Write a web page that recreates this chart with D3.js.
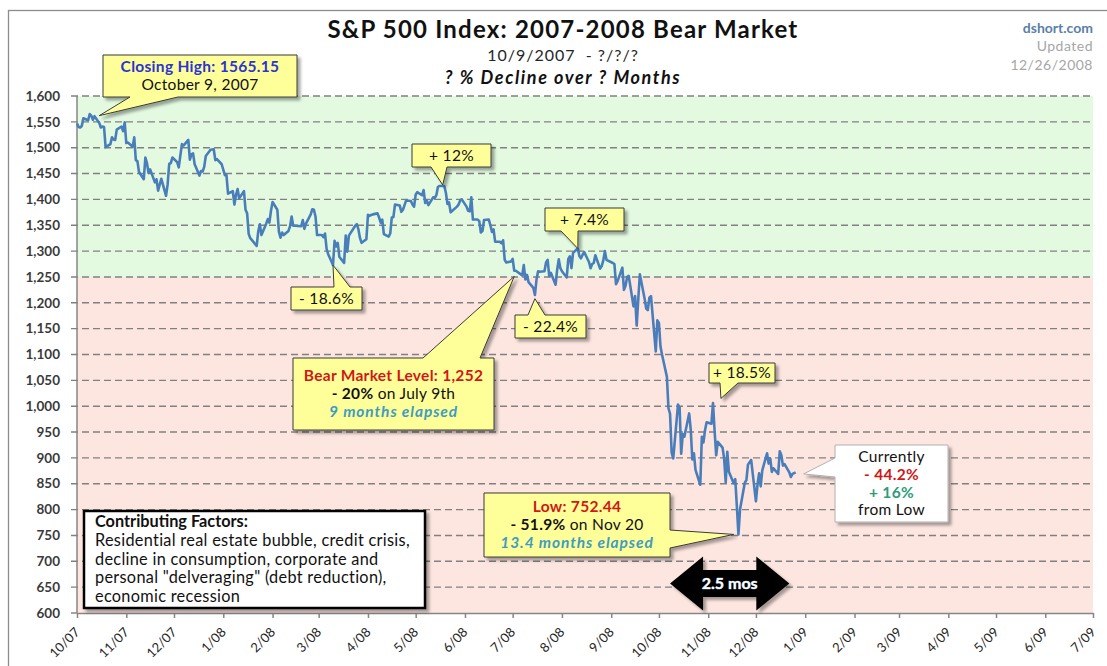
<!DOCTYPE html>
<html>
<head>
<meta charset="utf-8">
<script src="https://cdn.jsdelivr.net/npm/d3@7"></script>
<style>
  html, body { margin: 0; padding: 0; background: #fff; }
  svg { display: block; font-family: Lato, "Open Sans", sans-serif; }
</style>
</head>
<body>
<div id="chart"></div>
<script>
// daily closes, S&P 500
const tradingDays = [
  "10/01/07","10/02/07","10/03/07","10/04/07","10/05/07","10/08/07","10/09/07","10/10/07","10/11/07","10/12/07","10/15/07","10/16/07","10/17/07","10/18/07","10/19/07","10/22/07","10/23/07","10/24/07","10/25/07","10/26/07","10/29/07","10/30/07","10/31/07",
  "11/01/07","11/02/07","11/05/07","11/06/07","11/07/07","11/08/07","11/09/07","11/12/07","11/13/07","11/14/07","11/15/07","11/16/07","11/19/07","11/20/07","11/21/07","11/23/07","11/26/07","11/27/07","11/28/07","11/29/07","11/30/07",
  "12/03/07","12/04/07","12/05/07","12/06/07","12/07/07","12/10/07","12/11/07","12/12/07","12/13/07","12/14/07","12/17/07","12/18/07","12/19/07","12/20/07","12/21/07","12/24/07","12/26/07","12/27/07","12/28/07","12/31/07",
  "01/02/08","01/03/08","01/04/08","01/07/08","01/08/08","01/09/08","01/10/08","01/11/08","01/14/08","01/15/08","01/16/08","01/17/08","01/18/08","01/22/08","01/23/08","01/24/08","01/25/08","01/28/08","01/29/08","01/30/08","01/31/08",
  "02/01/08","02/04/08","02/05/08","02/06/08","02/07/08","02/08/08","02/11/08","02/12/08","02/13/08","02/14/08","02/15/08","02/19/08","02/20/08","02/21/08","02/22/08","02/25/08","02/26/08","02/27/08","02/28/08","02/29/08",
  "03/03/08","03/04/08","03/05/08","03/06/08","03/07/08","03/10/08","03/11/08","03/12/08","03/13/08","03/14/08","03/17/08","03/18/08","03/19/08","03/20/08","03/24/08","03/25/08","03/26/08","03/27/08","03/28/08","03/31/08",
  "04/01/08","04/02/08","04/03/08","04/04/08","04/07/08","04/08/08","04/09/08","04/10/08","04/11/08","04/14/08","04/15/08","04/16/08","04/17/08","04/18/08","04/21/08","04/22/08","04/23/08","04/24/08","04/25/08","04/28/08","04/29/08","04/30/08",
  "05/01/08","05/02/08","05/05/08","05/06/08","05/07/08","05/08/08","05/09/08","05/12/08","05/13/08","05/14/08","05/15/08","05/16/08","05/19/08","05/20/08","05/21/08","05/22/08","05/23/08","05/27/08","05/28/08","05/29/08","05/30/08",
  "06/02/08","06/03/08","06/04/08","06/05/08","06/06/08","06/09/08","06/10/08","06/11/08","06/12/08","06/13/08","06/16/08","06/17/08","06/18/08","06/19/08","06/20/08","06/23/08","06/24/08","06/25/08","06/26/08","06/27/08","06/30/08",
  "07/01/08","07/02/08","07/03/08","07/07/08","07/08/08","07/09/08","07/10/08","07/11/08","07/14/08","07/15/08","07/16/08","07/17/08","07/18/08","07/21/08","07/22/08","07/23/08","07/24/08","07/25/08","07/28/08","07/29/08","07/30/08","07/31/08",
  "08/01/08","08/04/08","08/05/08","08/06/08","08/07/08","08/08/08","08/11/08","08/12/08","08/13/08","08/14/08","08/15/08","08/18/08","08/19/08","08/20/08","08/21/08","08/22/08","08/25/08","08/26/08","08/27/08","08/28/08","08/29/08",
  "09/02/08","09/03/08","09/04/08","09/05/08","09/08/08","09/09/08","09/10/08","09/11/08","09/12/08","09/15/08","09/16/08","09/17/08","09/18/08","09/19/08","09/22/08","09/23/08","09/24/08","09/25/08","09/26/08","09/29/08","09/30/08",
  "10/01/08","10/02/08","10/03/08","10/06/08","10/07/08","10/08/08","10/09/08","10/10/08","10/13/08","10/14/08","10/15/08","10/16/08","10/17/08","10/20/08","10/21/08","10/22/08","10/23/08","10/24/08","10/27/08","10/28/08","10/29/08","10/30/08","10/31/08",
  "11/03/08","11/04/08","11/05/08","11/06/08","11/07/08","11/10/08","11/11/08","11/12/08","11/13/08","11/14/08","11/17/08","11/18/08","11/19/08","11/20/08","11/21/08","11/24/08","11/25/08","11/26/08","11/28/08",
  "12/01/08","12/02/08","12/03/08","12/04/08","12/05/08","12/08/08","12/09/08","12/10/08","12/11/08","12/12/08","12/15/08","12/16/08","12/17/08","12/18/08","12/19/08","12/22/08","12/23/08","12/24/08","12/26/08"
];
const closes = [
  1547,1540,1539,1542,1557,1553,1565,1562,1554,1561,1548,1539,1541,1540,1501,1507,1520,1516,1515,1535,1541,1532,1549,
  1509,1510,1502,1520,1476,1474,1453,1439,1481,1470,1451,1458,1433,1439,1417,1440,1407,1429,1469,1470,1481,
  1472,1462,1485,1507,1504,1515,1477,1487,1489,1468,1446,1455,1454,1463,1484,1496,1497,1476,1478,1468,
  1447,1447,1411,1416,1390,1409,1420,1402,1416,1380,1373,1333,1325,1310,1338,1352,1331,1353,1362,1355,1378,
  1395,1380,1337,1326,1336,1331,1339,1348,1367,1349,1349,1348,1360,1343,1353,1371,1381,1380,1367,1331,
  1331,1327,1334,1304,1294,1273,1320,1309,1316,1289,1277,1330,1299,1330,1349,1352,1342,1325,1316,1323,
  1370,1368,1370,1371,1373,1365,1355,1361,1333,1328,1334,1365,1366,1390,1388,1376,1380,1389,1398,1397,1390,1386,
  1409,1414,1408,1418,1393,1398,1389,1404,1403,1408,1424,1426,1426,1413,1391,1394,1375,1386,1390,1398,1400,
  1386,1378,1377,1404,1361,1361,1358,1336,1339,1360,1361,1350,1337,1342,1318,1318,1315,1321,1283,1278,1280,
  1285,1262,1262,1253,1273,1245,1254,1240,1229,1215,1245,1261,1260,1261,1278,1283,1252,1258,1235,1264,1284,1267,
  1261,1249,1285,1290,1267,1297,1305,1290,1286,1293,1298,1279,1267,1275,1277,1292,1266,1271,1282,1300,1283,
  1277,1275,1236,1242,1268,1225,1233,1250,1252,1193,1213,1156,1207,1255,1208,1189,1186,1210,1213,1106,1166,
  1161,1115,1099,1057,996,985,910,899,1003,998,908,946,941,986,955,897,909,877,848,941,930,954,969,
  966,1006,953,905,931,920,899,853,912,873,851,859,807,752,800,852,857,887,896,
  816,849,870,845,876,909,889,899,873,880,869,913,905,885,888,872,863,869,872
];
const monthTicks = ["10/07","11/07","12/07","1/08","2/08","3/08","4/08","5/08","6/08","7/08","8/08","9/08",
  "10/08","11/08","12/08","1/09","2/09","3/09","4/09","5/09","6/09","7/09"];
const bearLevel = 1250;
const arrowSpan = ["10/08/08", "12/22/08"];
const factorLines = [
  "Residential real estate bubble, credit crisis,",
  "decline in consumption, corporate and",
  "personal \"delveraging\" (debt reduction),",
  "economic recession"
];

const W = 1107, H = 666;
const plotL = 77, plotR = 1093, plotT = 96, plotB = 613;
const parseDay = d3.timeParse("%m/%d/%y");
const parseMonth = d3.timeParse("%m/%y");
const tickDates = monthTicks.map(parseMonth);

const series = tradingDays.map((d, i) => ({date: parseDay(d), close: closes[i]}));

const x = d3.scaleTime().domain([tickDates[0], tickDates[tickDates.length - 1]]).range([plotL, plotR]);
const y = d3.scaleLinear().domain([600, 1600]).range([plotB, plotT]);

const svg = d3.select("#chart").append("svg").attr("width", W).attr("height", H);

const defs = svg.append("defs");
defs.append("filter").attr("id", "shadow").attr("x", "-20%").attr("y", "-20%").attr("width", "150%").attr("height", "150%")
  .append("feDropShadow").attr("dx", 3).attr("dy", 3).attr("stdDeviation", 1.5)
  .attr("flood-color", "#000").attr("flood-opacity", 0.35);

// outer frame
svg.append("rect").attr("x", 8.5).attr("y", 10.5).attr("width", 1120).attr("height", 700)
  .attr("fill", "#fff").attr("stroke", "#8c8c8c").attr("stroke-width", 1.3);

// titles
svg.append("text").attr("x", 563).attr("y", 38).attr("text-anchor", "middle")
  .style("font-size", "24px").style("font-weight", "bold").style("letter-spacing", "1.2px").attr("fill", "#111")
  .text("S&P 500 Index: 2007-2008 Bear Market");
svg.append("text").attr("x", 563).attr("y", 61).attr("text-anchor", "middle")
  .style("font-size", "16px").style("letter-spacing", "1px").style("white-space", "pre").attr("fill", "#262626")
  .text("10/9/2007  - ?/?/?");
svg.append("text").attr("x", 563).attr("y", 84).attr("text-anchor", "middle")
  .style("font-size", "18px").style("font-weight", "bold").style("font-style", "italic")
  .style("letter-spacing", "1.6px").attr("fill", "#111")
  .text("? % Decline over ? Months");
svg.append("text").attr("x", plotR).attr("y", 33).attr("text-anchor", "end")
  .style("font-size", "14px").style("font-weight", "bold").attr("fill", "#5a7fa8").text("dshort.com");
svg.append("text").attr("x", plotR).attr("y", 51).attr("text-anchor", "end")
  .style("font-size", "14px").style("letter-spacing", "0.5px").attr("fill", "#a6a6a6").text("Updated");
svg.append("text").attr("x", plotR).attr("y", 70).attr("text-anchor", "end")
  .style("font-size", "14px").style("letter-spacing", "0.5px").attr("fill", "#a6a6a6").text("12/26/2008");

// zones
svg.append("rect").attr("x", plotL).attr("y", y(1600)).attr("width", plotR - plotL)
  .attr("height", y(bearLevel) - y(1600)).attr("fill", "#e3fae1");
svg.append("rect").attr("x", plotL).attr("y", y(bearLevel)).attr("width", plotR - plotL)
  .attr("height", y(600) - y(bearLevel)).attr("fill", "#fde6e0");

// grid + y labels
const yTicks = y.ticks(20);
svg.append("g").selectAll("line").data(yTicks.filter(t => t > 600)).join("line")
  .attr("x1", plotL - 6).attr("x2", plotR).attr("y1", d => y(d)).attr("y2", d => y(d))
  .attr("stroke", "#808080").attr("stroke-width", 1.4).attr("stroke-dasharray", "7,4");
svg.append("g").selectAll("text").data(yTicks).join("text")
  .attr("x", 60).attr("y", d => y(d)).attr("dy", "0.35em").attr("text-anchor", "end")
  .style("font-size", "13.5px").style("font-weight", "bold").attr("fill", "#3a3a3a")
  .text(d3.format(","));
svg.append("line").attr("x1", plotL).attr("x2", plotL).attr("y1", plotT).attr("y2", plotB)
  .attr("stroke", "#868686").attr("stroke-width", 1.5);
svg.append("line").attr("x1", plotL - 6).attr("x2", plotL).attr("y1", plotB).attr("y2", plotB)
  .attr("stroke", "#868686").attr("stroke-width", 1.5);

// x axis
const xAxis = svg.append("g").attr("transform", "translate(0," + plotB + ")")
  .call(d3.axisBottom(x).tickValues(tickDates).tickSize(5).tickSizeOuter(0)
    .tickFormat((d, i) => monthTicks[i]));
xAxis.select(".domain").attr("stroke", "#868686").attr("stroke-width", 1.5);
xAxis.selectAll(".tick line").attr("stroke", "#868686").attr("stroke-width", 1.5);
xAxis.selectAll(".tick text")
  .attr("x", 0).attr("y", 0).attr("dy", 0)
  .attr("transform", "translate(3,20) rotate(-45)")
  .attr("text-anchor", "end")
  .style("font-family", "Lato, sans-serif").style("font-size", "13px").attr("fill", "#262626");

// price line
const line = d3.line().x(d => x(d.date)).y(d => y(d.close));
svg.append("path").datum(series).attr("d", line)
  .attr("fill", "none").attr("stroke", "#4a7ebb").attr("stroke-width", 2.6).attr("stroke-linejoin", "round");

// callouts
const RED = "#d01818", TEAL = "#3f9cc0", BLUE = "#2b34d4", GREEN = "#2e9c78";
const callouts = [
  {box: [103, 55, 194, 42], side: "bottom", base: [130, 178], tip: ["10/15/07", 1562], lh: 18,
    lines: [[{t: "Closing High: 1565.15", c: BLUE, b: true}], [{t: "October 9, 2007"}]]},
  {box: [412, 144, 79, 23], side: "bottom", base: [431, 447], tip: ["5/18/08", 1428], lh: 18,
    lines: [[{t: "+ 12%"}]]},
  {box: [291, 287, 71, 23], side: "top", base: [334, 350], tip: ["3/10/08", 1273], lh: 18,
    lines: [[{t: "- 18.6%"}]]},
  {box: [545, 208, 79, 23], side: "bottom", base: [561, 578], tip: ["8/11/08", 1305], lh: 18,
    lines: [[{t: "+ 7.4%"}]]},
  {box: [515, 315, 71, 23], side: "top", base: [528, 545], tip: ["7/15/08", 1208], lh: 18,
    lines: [[{t: "- 22.4%"}]]},
  {box: [293, 358, 201, 72], side: "top", base: [423, 480], tip: ["7/2/08", 1251], lh: 18,
    lines: [[{t: "Bear Market Level: 1,252", c: RED, b: true}],
            [{t: "- 20%", b: true}, {t: " on July 9th"}],
            [{t: "9 months elapsed", c: TEAL, b: true, i: true}]]},
  {box: [709, 363, 66, 20], side: "bottom", base: [720, 738], tip: ["11/9/08", 1015], lh: 18,
    lines: [[{t: "+ 18.5%"}]]},
  {box: [484, 493, 186, 64], side: "right", base: [530, 548], tip: ["11/17/08", 752], lh: 18,
    lines: [[{t: "Low: 752.44", c: RED, b: true}],
            [{t: "- 51.9%", b: true}, {t: " on Nov 20"}],
            [{t: "13.4 months elapsed", c: TEAL, b: true, i: true}]]},
  {box: [835, 445, 113, 77], side: "left", base: [458, 477], tip: ["12/31/08", 869], lh: 17.7,
    fill: "#fff", stroke: "#b0b0b0",
    lines: [[{t: "Currently"}], [{t: "- 44.2%", c: RED, b: true}], [{t: "+ 16%", c: GREEN, b: true}], [{t: "from Low"}]]}
];

function calloutPath(c) {
  const [x0, y0, w, h] = c.box, x1 = x0 + w, y1 = y0 + h;
  const tx = x(parseDay(c.tip[0])), ty = y(c.tip[1]);
  const [a, b] = c.base;
  const p = d3.path();
  p.moveTo(x0, y0);
  if (c.side === "top") { p.lineTo(a, y0); p.lineTo(tx, ty); p.lineTo(b, y0); }
  p.lineTo(x1, y0);
  if (c.side === "right") { p.lineTo(x1, a); p.lineTo(tx, ty); p.lineTo(x1, b); }
  p.lineTo(x1, y1);
  if (c.side === "bottom") { p.lineTo(b, y1); p.lineTo(tx, ty); p.lineTo(a, y1); }
  p.lineTo(x0, y1);
  if (c.side === "left") { p.lineTo(x0, b); p.lineTo(tx, ty); p.lineTo(x0, a); }
  p.closePath();
  return p.toString();
}

callouts.forEach(c => {
  const g = svg.append("g");
  g.append("path").attr("d", calloutPath(c))
    .attr("fill", c.fill || "#ffff99").attr("stroke", c.stroke || "#3a3a3a").attr("stroke-width", 1)
    .attr("stroke-linejoin", "miter").attr("filter", "url(#shadow)");
  const cx = c.box[0] + c.box[2] / 2, cy = c.box[1] + c.box[3] / 2, n = c.lines.length;
  c.lines.forEach((ln, i) => {
    const t = g.append("text").attr("x", cx).attr("y", cy + (i - (n - 1) / 2) * c.lh).attr("dy", "0.35em")
      .attr("text-anchor", "middle").style("font-size", "15.5px").style("letter-spacing", "0.3px")
      .style("white-space", "pre");
    ln.forEach(s => t.append("tspan").text(s.t).attr("fill", s.c || "#111")
      .style("font-weight", s.b ? "bold" : "normal").style("font-style", s.i ? "italic" : "normal")
      .style("letter-spacing", s.i ? "0.9px" : null));
  });
});

// contributing factors box
const fb = svg.append("g");
fb.append("rect").attr("x", 84).attr("y", 511).attr("width", 341).attr("height", 97)
  .attr("fill", "#fff").attr("stroke", "#000").attr("stroke-width", 2.5).attr("filter", "url(#shadow)");
fb.append("text").attr("x", 95).attr("y", 527).style("font-size", "16.3px").style("font-weight", "bold")
  .attr("fill", "#111").text("Contributing Factors:");
fb.selectAll("text.f").data(factorLines).join("text").attr("class", "f")
  .attr("x", 95).attr("y", (d, i) => 546 + i * 18.5).style("font-size", "16.3px").style("letter-spacing", "0.3px")
  .attr("fill", "#111").text(d => d);

// 2.5 month double arrow
const ax0 = x(parseDay(arrowSpan[0])), ax1 = x(parseDay(arrowSpan[1])), ay = 583.5;
const hl = 33, hh = 27, sh = 13.5;
svg.append("path")
  .attr("d", d3.line()([[ax0, ay], [ax0 + hl, ay - hh], [ax0 + hl, ay - sh], [ax1 - hl, ay - sh], [ax1 - hl, ay - hh],
    [ax1, ay], [ax1 - hl, ay + hh], [ax1 - hl, ay + sh], [ax0 + hl, ay + sh], [ax0 + hl, ay + hh]]) + "Z")
  .attr("fill", "#000").attr("filter", "url(#shadow)");
svg.append("text").attr("x", (ax0 + ax1) / 2).attr("y", ay).attr("dy", "0.35em").attr("text-anchor", "middle")
  .style("font-size", "16px").style("font-weight", "bold").attr("fill", "#fff")
  .attr("stroke", "#9bbbd9").attr("stroke-width", 0.6).attr("paint-order", "stroke")
  .text("2.5 mos");
</script>
</body>
</html>
